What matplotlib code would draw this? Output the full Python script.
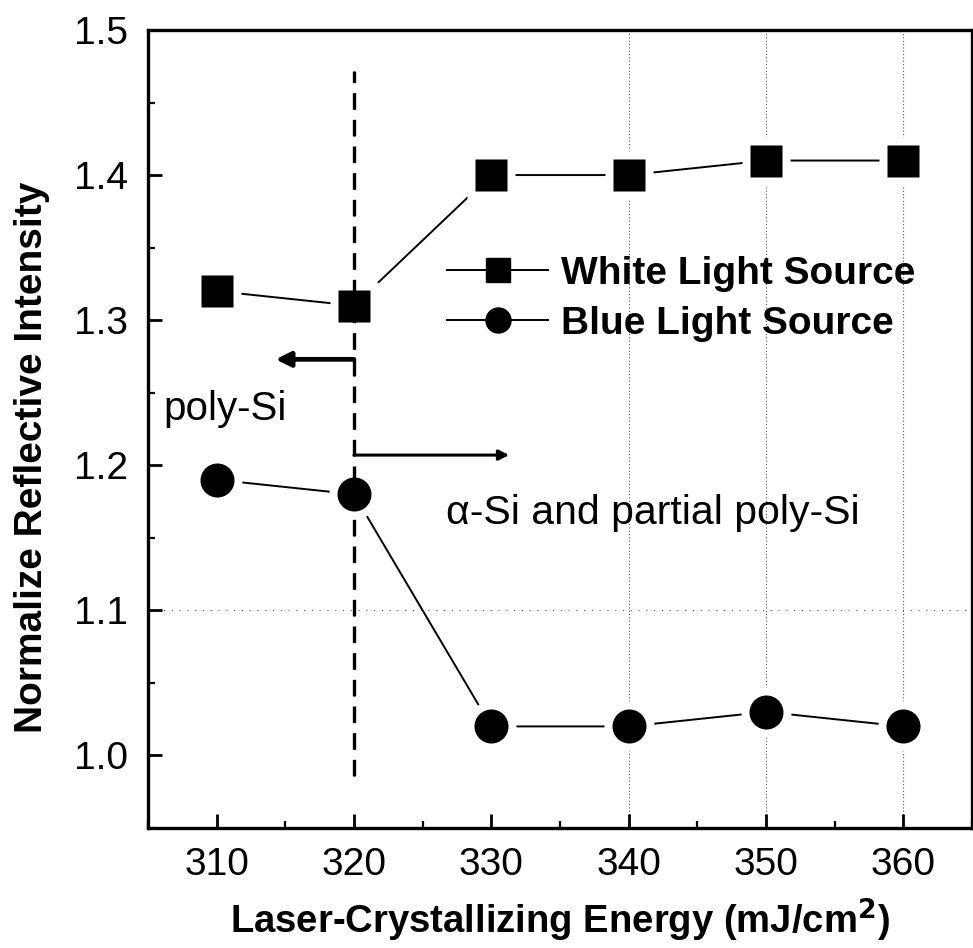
import numpy as np
import matplotlib
matplotlib.use("Agg")
import matplotlib.pyplot as plt
from matplotlib.lines import Line2D

plt.rcParams['font.family'] = ['Liberation Sans', 'DejaVu Sans']

# data
energy = [310, 320, 330, 340, 350, 360]
white_light = [1.32, 1.31, 1.40, 1.40, 1.41, 1.41]
blue_light = [1.19, 1.18, 1.02, 1.02, 1.03, 1.02]
threshold = 320
x_ticks = [310, 320, 330, 340, 350, 360]
y_ticks = [1.0, 1.1, 1.2, 1.3, 1.4, 1.5]

fig = plt.figure(figsize=(9.73, 9.48), dpi=100)
ax = fig.add_axes([0.152, 0.1266, 0.847, 0.8418])

# faint dotted grid like the scan
for xv in x_ticks[3:]:
    ax.axvline(xv, color='0.35', lw=0.8, ls=(0, (1, 2)), zorder=0)
ax.axhline(1.1, color='0.35', lw=0.8, ls=(0, (1, 6)), zorder=0)

# series: line, white halo for the gap, then the marker
ax.plot(energy, white_light, color='black', lw=1.4, zorder=2)
ax.plot(energy, white_light, ls='none', marker='s', ms=35, color='white', mec='none', zorder=3)
ax.plot(energy, white_light, ls='none', marker='s', ms=23, color='black', mec='none', zorder=4)

ax.plot(energy, blue_light, color='black', lw=1.4, zorder=2)
ax.plot(energy, blue_light, ls='none', marker='o', ms=36, color='white', mec='none', zorder=3)
ax.plot(energy, blue_light, ls='none', marker='o', ms=24.5, color='black', mec='none', zorder=4)

# threshold line
ax.plot([threshold, threshold], [0.986, 1.472], color='black', lw=2.4,
        ls=(0, (5, 3)), zorder=5)

# region arrows
ax.annotate('', xy=(314.3, 1.273), xytext=(threshold, 1.273),
            arrowprops=dict(arrowstyle='-|>', lw=3.4, color='black', mutation_scale=22,
                            shrinkA=0, shrinkB=0), zorder=6)
ax.annotate('', xy=(331.3, 1.207), xytext=(threshold, 1.207),
            arrowprops=dict(arrowstyle='-|>', lw=2.2, color='black', mutation_scale=15,
                            shrinkA=0, shrinkB=0), zorder=6)

ax.text(306.1, 1.239, 'poly-Si', fontsize=29, va='center', ha='left')
ax.text(326.7, 1.167, 'α-Si and partial poly-Si', fontsize=29.5, va='center', ha='left')

# legend
handles = [Line2D([], [], color='black', lw=1.4, marker='s', ms=17),
           Line2D([], [], color='black', lw=1.4, marker='o', ms=18)]
ax.legend(handles, ['White Light Source', 'Blue Light Source'],
          loc='center left', bbox_to_anchor=(0.363, 0.663), frameon=False,
          borderpad=0, borderaxespad=0, handlelength=2.6, handletextpad=0.33,
          labelspacing=0.36, prop={'weight': 'bold', 'size': 28})

ax.set_xlim(305, 365)
ax.set_ylim(0.95, 1.5)
ax.set_xticks(x_ticks)
ax.set_yticks(y_ticks)
ax.set_xticks(np.arange(305, 366, 5), minor=True)
ax.set_yticks(np.arange(0.95, 1.5, 0.05), minor=True)
ax.tick_params(which='major', direction='in', length=10, width=2, labelsize=28, pad=14)
ax.tick_params(which='minor', direction='in', length=5, width=1.6)
for s in ax.spines.values():
    s.set_linewidth(2.4)

ax.set_xlabel('Laser-Crystallizing Energy (mJ/cm$^\\mathbf{2}$)', fontsize=27.5,
              fontweight='bold', labelpad=10)
ax.set_ylabel('Normalize Reflective Intensity', fontsize=28, fontweight='bold')
ax.yaxis.set_label_coords(-0.119, 0.465)

fig.savefig('out.png', dpi=100)
